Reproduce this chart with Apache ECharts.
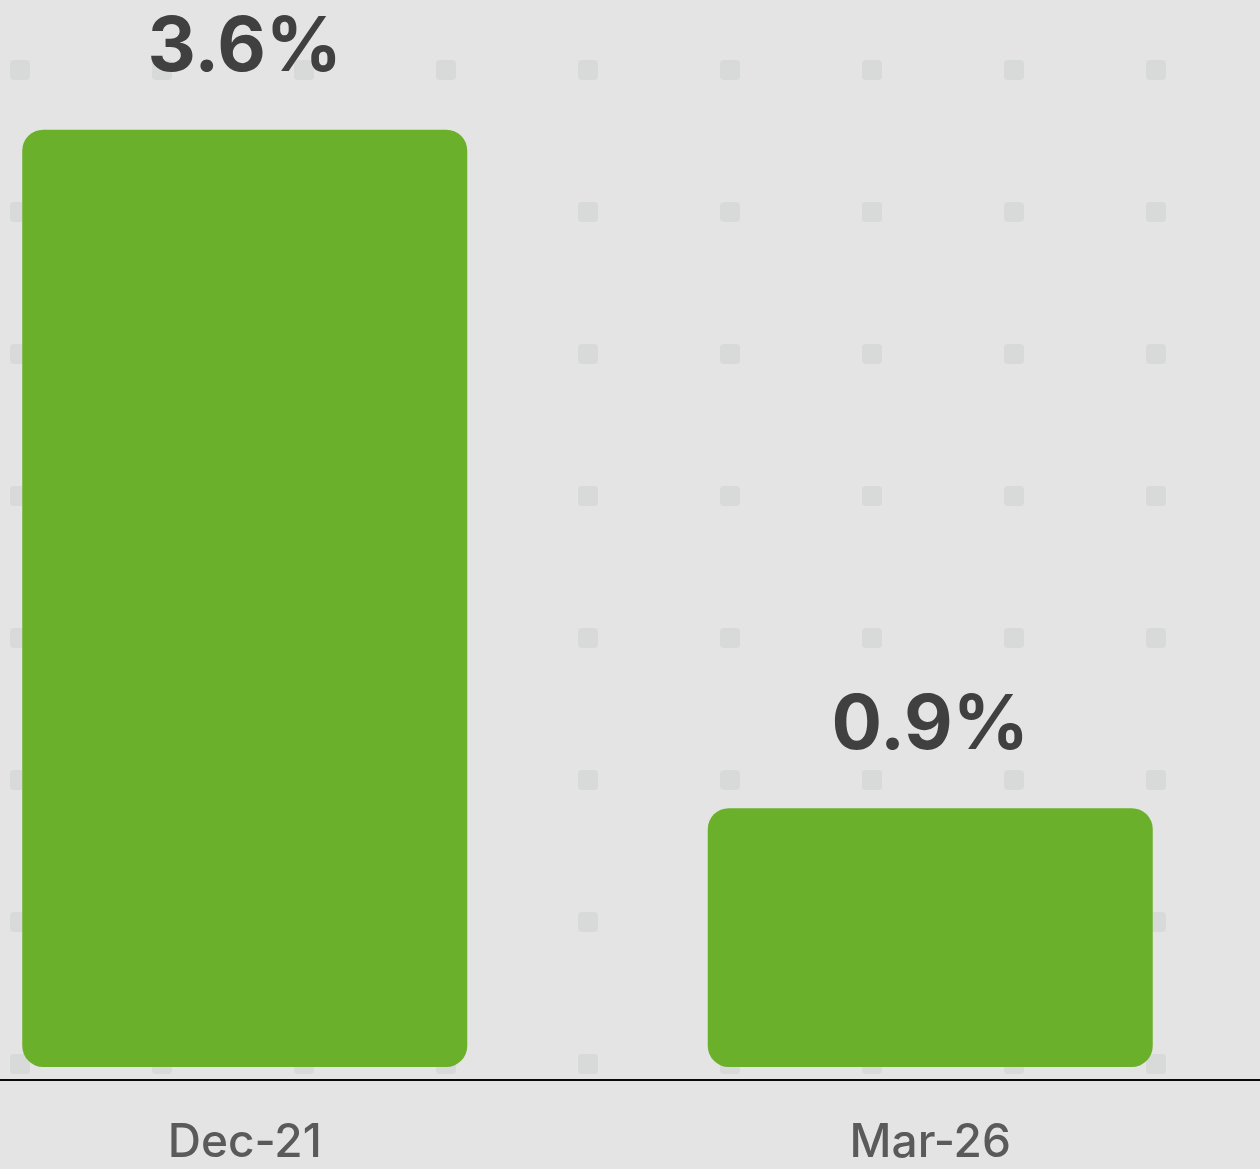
<!DOCTYPE html>
<html>
<head>
<meta charset="utf-8">
<style>
  html, body { margin: 0; padding: 0; background: #e4e4e4; }
  #chart { width: 1260px; height: 1169px; }
</style>
<script src="https://cdn.jsdelivr.net/npm/echarts@6/dist/echarts.min.js"></script>
</head>
<body>
<div id="chart"></div>
<script>
const categories = ['Dec-21', 'Mar-26'];
const values = [3.6, 0.9];

// dotted background tile
function makeTile() {
  const c = document.createElement('canvas');
  c.width = 142; c.height = 142;
  const g = c.getContext('2d');
  g.fillStyle = '#e4e4e4';
  g.fillRect(0, 0, 142, 142);
  g.fillStyle = '#d8d9d9';
  const x = 10, y = 60, w = 20, h = 20, r = 4;
  g.beginPath();
  g.moveTo(x + r, y);
  g.arcTo(x + w, y, x + w, y + h, r);
  g.arcTo(x + w, y + h, x, y + h, r);
  g.arcTo(x, y + h, x, y, r);
  g.arcTo(x, y, x + w, y, r);
  g.closePath();
  g.fill();
  return c;
}

const chart = echarts.init(document.getElementById('chart'), null, { renderer: 'canvas' });
chart.setOption({
  animation: false,
  backgroundColor: { image: makeTile(), repeat: 'repeat' },
  grid: { left: -98, right: -13, top: 4, bottom: 102, containLabel: false, outerBoundsMode: 'none' },
  xAxis: {
    type: 'category',
    data: categories,
    offset: 13,
    axisLine: { show: true, onZero: false, lineStyle: { color: '#0a0a0a', width: 2.2 } },
    axisTick: { show: false },
    axisLabel: {
      color: '#5a5a5a', fontFamily: 'Inter', fontSize: 46, fontWeight: 500, margin: 40
    },
    splitLine: { show: false }
  },
  yAxis: {
    type: 'value',
    min: -0.13,
    max: 4.1,
    startValue: -0.13,
    show: false,
    splitLine: { show: false }
  },
  series: [{
    type: 'bar',
    data: values,
    barWidth: 445,
    itemStyle: { color: '#6bb02b', borderRadius: 21 },
    label: {
      show: true,
      position: 'top',
      distance: 44,
      formatter: p => p.value.toFixed(1) + '%',
      color: '#404040',
      fontFamily: 'Inter',
      fontWeight: 'bold',
      fontSize: 75
    }
  }]
});
</script>
</body>
</html>
